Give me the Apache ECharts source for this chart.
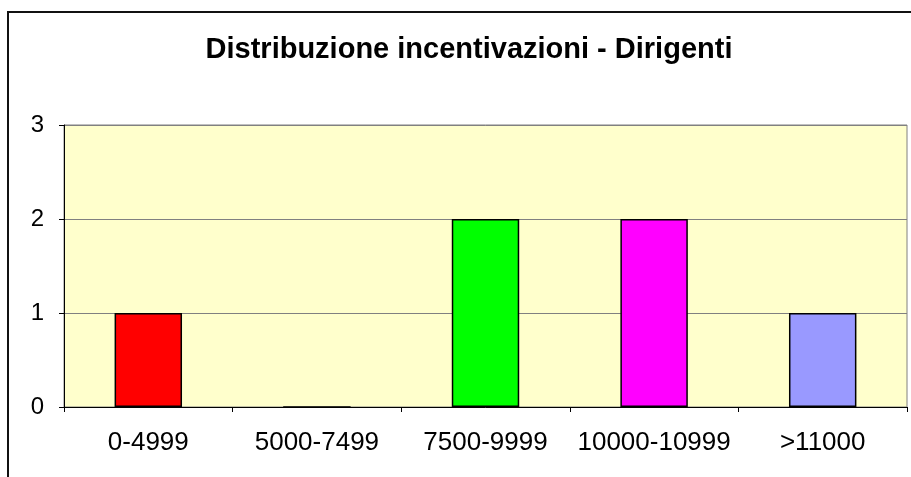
<!DOCTYPE html>
<html>
<head>
<meta charset="utf-8">
<script src="https://cdn.jsdelivr.net/npm/echarts@6/dist/echarts.min.js"></script>
<style>
  html, body { margin: 0; padding: 0; background: #fff; }
  #chart { width: 911px; height: 477px; }
</style>
</head>
<body>
<div id="chart"></div>
<script>
const titleText = "Distribuzione incentivazioni - Dirigenti";
const categories = ["0-4999", "5000-7499", "7500-9999", "10000-10999", ">11000"];
const counts = [1, 0, 2, 2, 1];
const barColors = ["#FF0000", "#FF0000", "#00FF00", "#FF00FF", "#9999FF"];

const fontFamily = "'Liberation Sans', Arial, sans-serif";
const chart = echarts.init(document.getElementById("chart"), null, { renderer: "canvas" });

chart.setOption({
  animation: false,
  backgroundColor: "#fff",
  textStyle: { fontFamily },
  title: {
    text: titleText,
    left: 464,
    textAlign: "center",
    top: 30,
    textStyle: { fontSize: 29, fontWeight: "bold", color: "#000", fontFamily }
  },
  graphic: [
    {
      type: "rect",
      shape: { x: 8, y: 12, width: 1000, height: 1000 },
      style: { fill: "none", stroke: "#111", lineWidth: 2 },
      silent: true,
      z: 100
    }
  ],
  grid: {
    left: 64,
    right: 4,
    top: 125,
    bottom: 70,
    show: true,
    backgroundColor: "#FFFFCC",
    borderColor: "#808080",
    borderWidth: 1,
    outerBoundsMode: "none"
  },
  xAxis: {
    type: "category",
    data: categories,
    boundaryGap: true,
    axisLine: { show: true, lineStyle: { color: "#000", width: 1 } },
    axisTick: { show: true, alignWithLabel: false, interval: 0, length: 5, lineStyle: { color: "#000" } },
    axisLabel: { color: "#000", fontSize: 26, margin: 23, interval: 0, hideOverlap: false, fontFamily },
    splitLine: { show: false }
  },
  yAxis: {
    type: "value",
    min: 0,
    max: 3,
    interval: 1,
    axisLine: { show: true, lineStyle: { color: "#000", width: 1 } },
    axisTick: { show: true, length: 5, lineStyle: { color: "#000" } },
    axisLabel: { color: "#000", fontSize: 24, margin: 20, fontFamily },
    splitLine: { show: true, lineStyle: { color: "#808080", width: 1 } }
  },
  series: [
    {
      type: "bar",
      barWidth: "40%",
      data: counts.map((v, i) => ({
        value: v,
        itemStyle: { color: barColors[i], borderColor: "#000", borderWidth: 1.5 }
      }))
    }
  ]
});
</script>
</body>
</html>
